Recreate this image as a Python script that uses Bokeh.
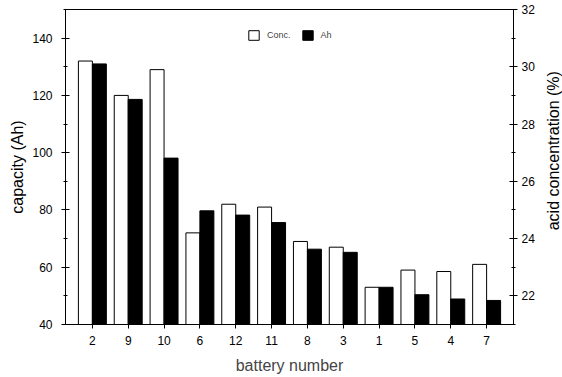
import math
from bokeh.plotting import figure
from bokeh.layouts import row
from bokeh.models import (FactorRange, Range1d, LinearAxis, SingleIntervalTicker,
                          Legend, LegendItem, ColumnDataSource)
from bokeh.core.properties import value
from bokeh.transform import dodge
from bokeh.embed import file_html
from bokeh.resources import INLINE

batteries = ["2", "9", "10", "6", "12", "11", "8", "3", "1", "5", "4", "7"]
conc = [30.2, 29.0, 29.9, 24.2, 25.2, 25.1, 23.9, 23.7, 22.3, 22.9, 22.85, 23.1]
ah = [131.0, 118.6, 98.1, 79.7, 78.2, 75.6, 66.3, 65.2, 53.0, 50.4, 48.9, 48.4]
right_title = "acid concentration (%)"

FONT = "Liberation Sans"

src = ColumnDataSource(dict(battery=batteries, conc=conc, ah=ah))

p = figure(width=537, height=377, output_backend="svg", toolbar_location=None,
           x_range=FactorRange(factors=batteries, range_padding=0.25,
                               range_padding_units="absolute"),
           y_range=Range1d(40, 150),
           min_border_left=65, min_border_right=24, min_border_top=9,
           min_border_bottom=53, background_fill_color="white",
           border_fill_color="white")
p.extra_y_ranges = {"conc": Range1d(21, 32)}

p.xgrid.visible = False
p.ygrid.visible = False
p.outline_line_color = "black"
p.outline_line_width = 1

r_conc = p.vbar(x=dodge("battery", -0.195, range=p.x_range), top="conc", bottom=21,
                width=0.39, source=src, y_range_name="conc",
                fill_color="white", line_color="black", line_width=1)
r_ah = p.vbar(x=dodge("battery", 0.195, range=p.x_range), top="ah", bottom=40,
              width=0.39, source=src, fill_color="black", line_color="black",
              line_width=1)

# left axis
ly = p.yaxis[0]
ly.ticker = SingleIntervalTicker(interval=20, num_minor_ticks=2)
ly.axis_label = "capacity (Ah)"

# right axis
ry = LinearAxis(y_range_name="conc",
                ticker=SingleIntervalTicker(interval=2, num_minor_ticks=2))
p.add_layout(ry, "right")

for ax in (ly, ry):
    ax.major_tick_in = 4
    ax.major_tick_out = 4
    ax.minor_tick_in = 2
    ax.minor_tick_out = 2
    ax.axis_label_text_font = FONT
    ax.axis_label_text_font_size = "16px"
    ax.axis_label_text_font_style = "normal"
    ax.major_label_text_font = FONT
    ax.major_label_text_font_size = "12px"
    ax.axis_line_color = "black"
    ax.major_tick_line_color = "black"
    ax.minor_tick_line_color = "black"
    ax.major_label_text_color = "black"
    ax.axis_label_text_color = "black"
ly.major_label_standoff = 9
ly.axis_label_standoff = 3
ry.major_label_standoff = 4

xa = p.xaxis[0]
xa.axis_label = "battery number"
xa.major_tick_in = 0
xa.major_tick_out = 4
xa.major_label_standoff = 7
xa.axis_label_standoff = 9
xa.axis_label_text_font = FONT
xa.axis_label_text_font_size = "16px"
xa.axis_label_text_font_style = "normal"
xa.major_label_text_font = FONT
xa.major_label_text_font_size = "12px"
xa.axis_line_color = "black"
xa.major_tick_line_color = "black"
xa.major_label_text_color = "black"

legend = Legend(items=[LegendItem(label="Conc.", renderers=[r_conc]),
                       LegendItem(label="Ah", renderers=[r_ah])],
                location=(182, 283), orientation="horizontal",
                glyph_width=13, glyph_height=12, label_standoff=7, spacing=10,
                padding=0, margin=0, border_line_color=None,
                background_fill_alpha=0, label_text_font=FONT,
                label_text_font_size="9px", label_height=12)
p.add_layout(legend, "center")

# narrow strip holding the right-hand axis title (reads bottom-to-top)
p2 = figure(width=25, height=377, output_backend="svg", toolbar_location=None,
            x_range=Range1d(0, 25), y_range=Range1d(0, 377),
            min_border=0, min_border_left=0, min_border_right=0,
            min_border_top=0, min_border_bottom=0,
            background_fill_color="white", border_fill_color="white")
p2.axis.visible = False
p2.grid.visible = False
p2.outline_line_color = None
p2.text(x=[16], y=[208], text=[right_title], angle=math.pi / 2,
        text_align="center", text_baseline="middle",
        text_font=value(FONT), text_font_size="16px", text_color="black")

layout = row(p, p2, spacing=0)
open("out.html", "w").write(file_html(layout, INLINE))
